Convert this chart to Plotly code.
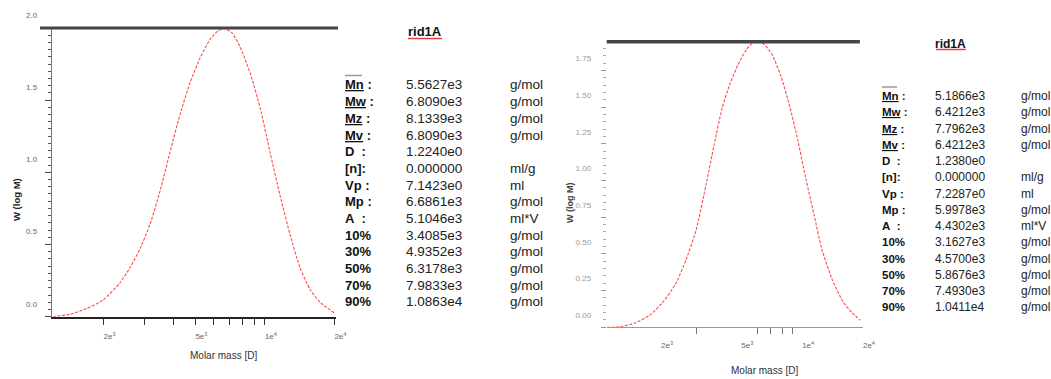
import plotly.graph_objects as go

# Differential molar-mass distributions (two runs), W(log M) vs M
left_mass = [1207, 1430, 1695, 1988, 2356, 2603, 2876, 3178, 3511, 3879, 4286, 4736, 5232,
             5781, 6263, 6648, 7201, 7798, 8616, 9521, 10520, 11624, 12845, 14190, 15680,
             17330, 20000]
left_w = [0.0, 0.017, 0.058, 0.115, 0.235, 0.34, 0.47, 0.64, 0.87, 1.14, 1.40, 1.62, 1.79,
          1.92, 1.98, 1.997, 1.965, 1.87, 1.69, 1.45, 1.14, 0.84, 0.57, 0.34, 0.19,
          0.10, 0.026]

right_mass = [1081, 1254, 1487, 1765, 2046, 2373, 2659, 2981, 3340, 3660, 4009, 4391, 4812,
              5270, 5643, 5975, 6471, 7088, 7857, 8701, 9535, 10443, 11439, 12530, 14045,
              15922, 17646, 19330]
right_w = [0.0, 0.003, 0.03, 0.084, 0.172, 0.30, 0.46, 0.66, 0.97, 1.24, 1.49, 1.66, 1.79,
           1.89, 1.935, 1.947, 1.93, 1.86, 1.71, 1.50, 1.27, 1.01, 0.77, 0.53, 0.33,
           0.175, 0.10, 0.05]

# Axis ticks
x_major = [2000, 5000, 10000, 20000]
x_major_text = ["2e<sup>3</sup>", "5e<sup>3</sup>", "1e<sup>4</sup>", "2e<sup>4</sup>"]
left_x_minor = [3000, 4000, 6000, 7000, 8000, 9000]
right_x_minor = [3000, 6000, 7000, 8000, 9000]

# Result tables
sample_name = "rid1A"
row_labels = ["Mn", "Mw", "Mz", "Mv", "D\u00a0\u00a0:", "[n]:", "Vp\u00a0:", "Mp\u00a0:", "A\u00a0\u00a0:",
              "10%", "30%", "50%", "70%", "90%"]
averaged_rows = 4  # Mn, Mw, Mz, Mv are printed underlined
left_values = ["5.5627e3", "6.8090e3", "8.1339e3", "6.8090e3", "1.2240e0", "0.000000", "7.1423e0",
               "6.6861e3", "5.1046e3", "3.4085e3", "4.9352e3", "6.3178e3", "7.9833e3", "1.0863e4"]
right_values = ["5.1866e3", "6.4212e3", "7.7962e3", "6.4212e3", "1.2380e0", "0.000000", "7.2287e0",
                "5.9978e3", "4.4302e3", "3.1627e3", "4.5700e3", "5.8676e3", "7.4930e3", "1.0411e4"]
units = ["g/mol", "g/mol", "g/mol", "g/mol", "", "ml/g", "ml", "g/mol", "ml*V",
         "g/mol", "g/mol", "g/mol", "g/mol", "g/mol"]

W, H = 1051, 379
FONT = "Liberation Sans, Arial, sans-serif"
NARROW = "Liberation Sans Narrow, Liberation Sans, Arial, sans-serif"


def px(x):
    return x / W


def py(y):
    return 1 - y / H


curve_line = dict(color="#ff4a4a", width=1.1, dash="3px,1.5px", shape="spline", smoothing=0.6)

fig = go.Figure()
fig.add_trace(go.Scatter(x=left_mass, y=left_w, xaxis="x", yaxis="y", mode="lines",
                         line=curve_line, showlegend=False, hoverinfo="skip"))
fig.add_trace(go.Scatter(x=right_mass, y=right_w, xaxis="x2", yaxis="y2", mode="lines",
                         line=curve_line, showlegend=False, hoverinfo="skip"))

tickfont = dict(family=NARROW, size=8, color="#666")

fig.update_layout(
    width=W, height=H,
    margin=dict(l=0, r=0, t=0, b=0, autoexpand=False),
    paper_bgcolor="white", plot_bgcolor="white",
    showlegend=False,
    # left chart
    xaxis=dict(type="log", domain=[px(51.7), px(336)], range=[3.07616, 4.30796], anchor="y",
               automargin=False,
               showline=True, linecolor="#222", linewidth=1.5, showgrid=False, zeroline=False,
               ticks="outside", tickvals=x_major, ticktext=x_major_text, ticklen=7,
               tickcolor="#333", tickwidth=1, tickfont=tickfont,
               ticklabelshift=6, ticklabelstandoff=4,
               minor=dict(tickmode="array", tickvals=left_x_minor, ticks="outside", ticklen=7,
                          tickcolor="#333", tickwidth=1, showgrid=False)),
    xaxis3=dict(type="log", overlaying="x", anchor="y", range=[3.07616, 4.30796],
                automargin=False,
                showline=False, showgrid=False, zeroline=False, showticklabels=False,
                ticks="outside", tickvals=[10000], ticklen=17, tickcolor="#333", tickwidth=1),
    yaxis=dict(domain=[py(316.7), py(27.9)], range=[0, 2.0001], anchor="x",
               automargin=False,
               showline=True, linecolor="#777", linewidth=1, showgrid=False, zeroline=False,
               ticks="outside", tick0=0, dtick=0.5, ticklen=6, tickcolor="#444", tickwidth=1,
               tickformat=".1f", tickfont=tickfont, ticklabelshift=-13, ticklabelstandoff=6,
               minor=dict(dtick=0.05, ticks="outside", ticklen=3, tickcolor="#555",
                          tickwidth=1, showgrid=False)),
    # right chart
    xaxis2=dict(type="log", domain=[px(606.7), px(863)], range=[3.0322, 4.3012], anchor="y2",
                automargin=False,
                showline=True, linecolor="#999", linewidth=1, showgrid=False, zeroline=False,
                ticks="outside", tickvals=x_major, ticktext=x_major_text, ticklen=6,
                tickcolor="rgba(0,0,0,0)", tickfont=tickfont,
                ticklabelshift=6, ticklabelstandoff=4,
                minor=dict(tickmode="array", tickvals=right_x_minor, ticks="outside", ticklen=6,
                           tickcolor="#777", tickwidth=1, showgrid=False)),
    xaxis4=dict(type="log", overlaying="x2", anchor="y2", range=[3.0322, 4.3012],
                automargin=False,
                showline=False, showgrid=False, zeroline=False, showticklabels=False,
                ticks="outside", tickvals=[10000], ticklen=18, tickcolor="#777", tickwidth=1,
                minor=dict(tickmode="array", tickvals=[2000, 20000], ticks="outside", ticklen=6,
                           tickcolor="#777", tickwidth=1, showgrid=False)),
    yaxis2=dict(domain=[py(327.3), py(41.7)], range=[0, 1.947], anchor="x2",
                automargin=False,
                showline=False, showgrid=False, zeroline=False,
                ticks="outside", tick0=0, dtick=0.25, ticklen=5, tickcolor="#999", tickwidth=1,
                tickformat=".2f", tickfont=dict(family=NARROW, size=8, color="#999"),
                ticklabelshift=-12, ticklabelstandoff=8,
                minor=dict(dtick=0.05, ticks="outside", ticklen=3, tickcolor="#aaa",
                           tickwidth=1, showgrid=False)),
)

shapes = [
    # heavy top frame lines
    dict(type="line", xref="x domain", yref="y domain", x0=-0.041, x1=1.007, y0=1, y1=1,
         line=dict(color="#454545", width=3)),
    dict(type="line", xref="x2 domain", yref="y2 domain", x0=0, x1=0.988, y0=1, y1=1,
         line=dict(color="#454545", width=3.5)),
    # red underline of the sample names
    dict(type="line", xref="paper", yref="paper", x0=px(408), x1=px(442), y0=py(38.5),
         y1=py(38.5), line=dict(color="#e84040", width=1.5)),
    dict(type="line", xref="paper", yref="paper", x0=px(936), x1=px(966), y0=py(49.5),
         y1=py(49.5), line=dict(color="#e84040", width=1.5)),
    # overline bar above Mn
    dict(type="line", xref="paper", yref="paper", x0=px(345), x1=px(362), y0=py(75.5),
         y1=py(75.5), line=dict(color="#999", width=1.5)),
    dict(type="line", xref="paper", yref="paper", x0=px(882), x1=px(897), y0=py(87),
         y1=py(87), line=dict(color="#999", width=1.5)),
]

annotations = []


def text(x, y, s, size, color="#111", anchor="left", family=FONT, angle=0):
    annotations.append(dict(xref="paper", yref="paper", x=px(x), y=py(y), text=s,
                            showarrow=False, xanchor=anchor, yanchor="middle", textangle=angle,
                            font=dict(family=family, size=size, color=color)))


def label_markup(i, lbl):
    if i < averaged_rows:
        return "<b><u>" + lbl + "</u>\u00a0:</b>"
    return "<b>" + lbl + "</b>"


# axis titles
text(16, 200, "<b>W (log M)</b>", 9.5, "#222", "center", NARROW, -90)
text(570, 203, "<b>W (log M)</b>", 9, "#444", "center", NARROW, -90)
text(223, 355, "Molar mass [D]", 10, "#2a3040", "center", NARROW)
text(764, 370, "Molar mass [D]", 10, "#2a3040", "center", NARROW)

# left table
text(425, 31, "<b>" + sample_name + "</b>", 13, "#111", "center")
for i, (lbl, val, unit) in enumerate(zip(row_labels, left_values, units)):
    y = 85 + i * 16.67
    text(343, y, label_markup(i, lbl), 13, "#111")
    text(404, y, val, 13.5, "#222")
    if unit:
        text(508, y, unit, 13.5, "#222")

# right table
text(950, 44, "<b>" + sample_name + "</b>", 12, "#111", "center")
for i, (lbl, val, unit) in enumerate(zip(row_labels, right_values, units)):
    y = 96 + i * 16.25
    text(880, y, label_markup(i, lbl), 11.5, "#111")
    text(933, y, val, 12, "#222")
    if unit:
        text(1019, y, unit, 12, "#222")

fig.update_layout(shapes=shapes, annotations=annotations)
fig.write_html("out.html")
